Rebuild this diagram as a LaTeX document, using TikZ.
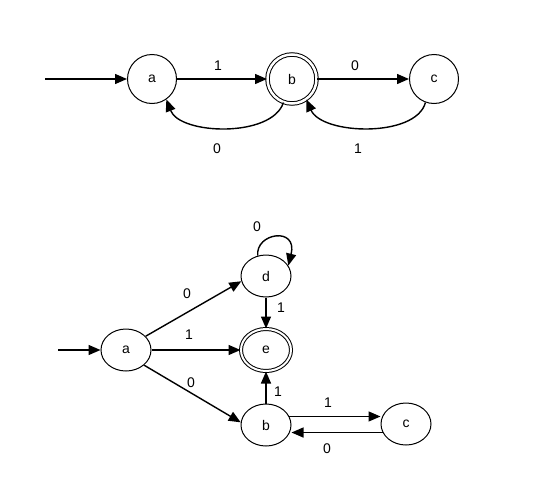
\documentclass[tikz,border=0pt]{standalone}
\usepackage{fontspec}
\setmainfont{Liberation Sans}
\usetikzlibrary{arrows.meta,shapes.geometric}
\begin{document}
\begin{tikzpicture}[x=1pt,y=-1pt,
  every node/.style={font=\fontsize{14}{16}\selectfont},
  st/.style={draw,circle,minimum size=49pt,inner sep=0pt,line width=1pt},
  acc/.style={st,double,double distance=2.5pt},
  es/.style={draw,ellipse,minimum width=50pt,minimum height=42pt,inner sep=0pt,line width=1pt},
  eacc/.style={es,double,double distance=2pt},
  tr/.style={-{Triangle[length=12pt,width=10pt]},line width=1.4pt},
  lbl/.style={inner sep=0pt}]
\useasboundingbox (0,0) rectangle (540,479);
% top automaton
\node[st] (a1) at (152,79) {a};
\node[acc] (b1) at (292,79) {b};
\node[st] (c1) at (434,79) {c};
\coordinate (s1) at (45,79);
\draw[tr] (s1) -- (a1);
\draw[tr] (a1) -- (b1);
\draw[tr] (b1) -- (c1);
\draw[tr] (b1.-110) .. controls (272,138) and (180,135) .. (a1.-55);
\draw[tr] (c1.-110) .. controls (416,138) and (322,135) .. (b1.-55);
\node[lbl] (l1) at (218,66) {1};
\node[lbl] (l2) at (355,66) {0};
\node[lbl] (l3) at (217,149) {0};
\node[lbl] (l4) at (358,149) {1};
% bottom automaton
\node[es] (a2) at (126,350) {a};
\node[es] (d2) at (266,276) {d};
\node[eacc] (e2) at (266,350) {e};
\node[es] (b2) at (266,425) {b};
\node[es] (c2) at (406,424) {c};
\coordinate (s2) at (58,350);
\draw[tr] (s2) -- (a2);
\draw[tr] (a2.35) -- (d2.192);
\draw[tr] (a2) -- (e2);
\draw[tr] (a2.-40) -- (b2.174);
\draw[tr] (d2) -- (e2);
\draw[tr] (b2) -- (e2);
\draw[tr] (b2.20) -- (b2.20 -| c2.west);
\draw[tr] (c2.-160) -- (c2.-160 -| b2.east);
\draw[tr] (d2.112) .. controls (255,233) and (298,226) .. (d2.25);
\node[lbl] (m0) at (257,227) {0};
\node[lbl] (m1) at (187,294) {0};
\node[lbl] (m2) at (189,335) {1};
\node[lbl] (m3) at (191,383) {0};
\node[lbl] (m4) at (281,308) {1};
\node[lbl] (m5) at (278,392) {1};
\node[lbl] (m6) at (328,403) {1};
\node[lbl] (m7) at (327,449) {0};
\end{tikzpicture}
\end{document}
